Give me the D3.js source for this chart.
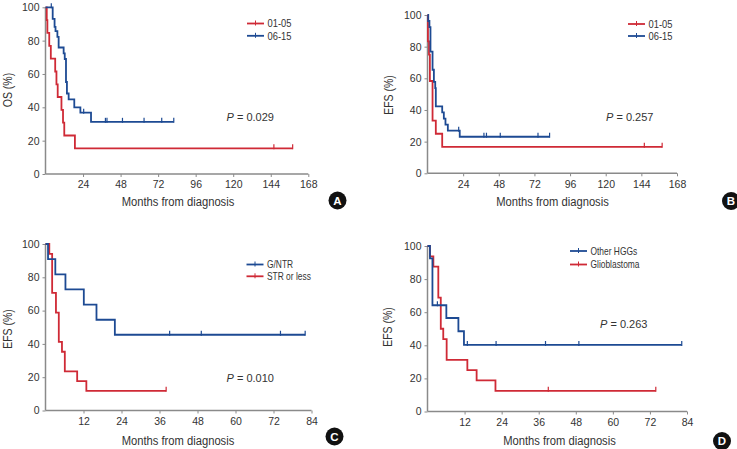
<!DOCTYPE html>
<html><head><meta charset="utf-8">
<script src="https://cdn.jsdelivr.net/npm/d3@7"></script>
<style>
body{margin:0;background:#fff;}
svg{display:block;}
text{font-family:"Liberation Sans",Arial,sans-serif;fill:#333;}
</style></head><body>
<svg id="c" width="737" height="449"></svg>
<script>
// ---------- DATA ----------
const yTicks = [0, 20, 40, 60, 80, 100];
const xTicksAB = [24, 48, 72, 96, 120, 144, 168];
const xTicksCD = [12, 24, 36, 48, 60, 72, 84];

// Panel A (OS)
const aRedTimes = [0, 0.8, 1.2, 2.4, 3.4, 6.2, 7.0, 7.8, 10.2, 11.2, 12.0, 18.8, 158];
const aRedSurv  = [100, 92.3, 84.6, 76.9, 69.2, 61.5, 53.8, 46.2, 38.5, 30.8, 23.1, 15.4, 15.4];
const aRedCens  = [146, 158];
const aBlueTimes = [0, 4.6, 5.8, 6.4, 7.6, 8.4, 11.6, 12.3, 13.1, 13.7, 14.8, 18.4, 22.3, 29.1, 82];
const aBlueSurv  = [100, 93.1, 88.3, 85.7, 82.3, 75.9, 72.4, 69.0, 55.2, 48.3, 44.8, 40.0, 36.8, 31.3, 31.3];
const aBlueCens  = [3.7, 24.4, 38.3, 39.3, 49.2, 63, 74.3, 82];

// Panel B (EFS)
const bRedTimes = [0, 0.3, 1.0, 1.6, 3.4, 5.6, 9.9, 158];
const bRedSurv  = [100, 83.3, 75.0, 58.3, 33.3, 25.0, 16.7, 16.7];
const bRedCens  = [146, 158];
const bBlueTimes = [0, 0.5, 1.3, 2.0, 3.4, 4.3, 5.2, 5.6, 9.9, 11.0, 12.1, 13.7, 21.7, 82.2];
const bBlueSurv  = [100, 96.2, 92.3, 76.9, 65.4, 57.7, 53.8, 42.3, 38.5, 34.6, 30.8, 26.9, 23.1, 23.1];
const bBlueCens  = [21.0, 38.0, 39.7, 49.0, 74.4, 82.2];

// Panel C (EFS by resection)
const cBlueTimes = [0, 0.8, 3.1, 6.3, 12.1, 16.1, 21.9, 82];
const cBlueSurv  = [100, 90.9, 81.8, 72.7, 63.6, 54.5, 45.5, 45.5];
const cBlueCens  = [39.2, 49.2, 74.2, 82];
const cRedTimes = [0, 1.2, 2.1, 3.3, 4.2, 5.2, 6.1, 10.0, 12.9, 38.1];
const cRedSurv  = [100, 94.1, 70.6, 58.8, 41.2, 35.3, 23.5, 17.6, 11.8, 11.8];
const cRedCens  = [38.1];

// Panel D (EFS by histology)
const dBlueTimes = [0, 0.8, 1.6, 6.1, 10.0, 11.8, 82.3];
const dBlueSurv  = [100, 92.5, 64.2, 56.5, 48.5, 40.2, 40.2];
const dBlueCens  = [3.2, 12.9, 22.2, 38.2, 49.0, 82.3];
const dRedTimes = [0, 0.8, 1.9, 3.5, 4.3, 5.1, 6.2, 12.9, 15.9, 22.0, 73.9];
const dRedSurv  = [100, 93.75, 87.5, 68.75, 50.0, 43.75, 31.25, 25.0, 18.75, 12.5, 12.5];
const dRedCens  = [39.1, 73.9];

const legendA = ["01-05", "06-15"];
const legendC = ["G/NTR", "STR or less"];
const legendD = ["Other HGGs", "Glioblastoma"];
const pValues = ["0.029", "0.257", "0.010", "0.263"];
const yTitles = ["OS (%)", "EFS (%)", "EFS (%)", "EFS (%)"];
const xTitle = "Months from diagnosis";
const badges = ["A", "B", "C", "D"];

// ---------- DRAW ----------
const RED = "#cf2a36", BLUE = "#1d4a93", AXIS = "#8a8a8a";
const svg = d3.select("#c");

function ntext(g, x, y, str, size, sx, anchor, rot) {
  return g.append("text")
    .attr("transform", `translate(${x},${y})${rot ? " rotate(" + rot + ")" : ""} scale(${sx},1)`)
    .attr("text-anchor", anchor || "start").style("font-size", size + "px").text(str);
}

function curve(g, x, y, times, surv, cens, color) {
  const pts = times.map((t, i) => [t, surv[i]]);
  g.append("path").datum(pts)
    .attr("fill", "none").attr("stroke", color).attr("stroke-width", 1.8)
    .attr("d", d3.line().x(d => x(d[0])).y(d => y(d[1])).curve(d3.curveStepAfter));
  const level = t => { let s = surv[0]; for (let i = 0; i < times.length; i++) if (times[i] <= t) s = surv[i]; return s; };
  g.selectAll(null).data(cens).enter().append("line")
    .attr("x1", d => x(d)).attr("x2", d => x(d))
    .attr("y1", d => y(level(d)) - 4).attr("y2", d => y(level(d)) + 1)
    .attr("stroke", color).attr("stroke-width", 1.2);
}

function panel(cfg) {
  const g = svg.append("g");
  const x = d3.scaleLinear().domain([0, cfg.xmax]).range(cfg.xr);
  const y = d3.scaleLinear().domain([0, 100]).range(cfg.yr);
  const ya = g.append("g").attr("transform", `translate(${cfg.xr[0]},0)`)
    .call(d3.axisLeft(y).tickValues(yTicks).tickSize(3).tickPadding(3));
  const xa = g.append("g").attr("transform", `translate(0,${cfg.yr[0]})`)
    .call(d3.axisBottom(x).tickValues(cfg.xt).tickSize(3).tickPadding(4));
  [ya, xa].forEach(a => {
    a.select(".domain").attr("stroke", AXIS).attr("stroke-width", 1.5);
    a.selectAll(".tick line").attr("stroke", AXIS).attr("stroke-width", 1);
    a.selectAll(".tick text").attr("fill", "#333").style("font-family", "'Liberation Sans',Arial,sans-serif").style("font-size", "10.5px");
  });
  xa.select(".domain").attr("d", `M${cfg.xr[0]},0H${cfg.xr[1]}`);
  ya.select(".domain").attr("d", `M0,${cfg.yr[0]}V${cfg.yr[1]}`);
  cfg.series.forEach(s => curve(g, x, y, s.t, s.s, s.c, s.color));
  cfg.legend.forEach((lab, i) => {
    const ly = cfg.leg[1] + i * cfg.legGap;
    const col = cfg.legColors[i];
    g.append("line").attr("x1", cfg.leg[0]).attr("x2", cfg.leg[0] + 17).attr("y1", ly).attr("y2", ly)
      .attr("stroke", col).attr("stroke-width", 1.8);
    g.append("line").attr("x1", cfg.leg[0] + 8.5).attr("x2", cfg.leg[0] + 8.5).attr("y1", ly - 3).attr("y2", ly + 2)
      .attr("stroke", col).attr("stroke-width", 1);
    ntext(g, cfg.leg[0] + 20.5, ly + 3.7, lab, cfg.legSize, cfg.legSx);
  });
  const pt = g.append("text").attr("x", cfg.p[0]).attr("y", cfg.p[1]).style("font-size", "11px");
  pt.append("tspan").style("font-style", "italic").text("P");
  pt.append("tspan").text(" = " + cfg.pv);
  ntext(g, cfg.yt[0], cfg.yt[1], cfg.ytitle, 12.5, 0.84, "middle", -90);
  ntext(g, cfg.xtp[0], cfg.xtp[1], xTitle, 13.5, 0.83, "middle");
  g.append("circle").attr("cx", cfg.b[0]).attr("cy", cfg.b[1]).attr("r", 9).attr("fill", "#111");
  g.append("text").attr("x", cfg.b[0]).attr("y", cfg.b[1] + 4).attr("text-anchor", "middle")
    .style("font-weight", "bold").style("font-size", "11.5px").style("fill", "#fff").text(cfg.badge);
}

panel({xmax: 168, xr: [45.5, 308.3], yr: [174, 7.3], xt: xTicksAB,
  series: [{t: aRedTimes, s: aRedSurv, c: aRedCens, color: RED}, {t: aBlueTimes, s: aBlueSurv, c: aBlueCens, color: BLUE}],
  legend: legendA, legColors: [RED, BLUE], leg: [247, 23.5], legGap: 12.3, legSize: 11, legSx: 0.85,
  p: [226.5, 121], pv: pValues[0], ytitle: yTitles[0], yt: [12, 90], xtp: [178, 206], b: [337.5, 200.5], badge: badges[0]});

panel({xmax: 168, xr: [427.5, 677], yr: [173.3, 15], xt: xTicksAB,
  series: [{t: bRedTimes, s: bRedSurv, c: bRedCens, color: RED}, {t: bBlueTimes, s: bBlueSurv, c: bBlueCens, color: BLUE}],
  legend: legendA, legColors: [RED, BLUE], leg: [628, 24], legGap: 12, legSize: 11, legSx: 0.85,
  p: [606, 121], pv: pValues[1], ytitle: yTitles[1], yt: [393, 95], xtp: [552.5, 206], b: [731, 201], badge: badges[1]});

panel({xmax: 84, xr: [45.5, 311.5], yr: [410.5, 244], xt: xTicksCD,
  series: [{t: cRedTimes, s: cRedSurv, c: cRedCens, color: RED}, {t: cBlueTimes, s: cBlueSurv, c: cBlueCens, color: BLUE}],
  legend: legendC, legColors: [BLUE, RED], leg: [246.5, 264.5], legGap: 11.8, legSize: 10.5, legSx: 0.8,
  p: [226.5, 381.5], pv: pValues[2], ytitle: yTitles[2], yt: [12, 329], xtp: [178, 444.5], b: [334.5, 436.5], badge: badges[2]});

panel({xmax: 84, xr: [427.5, 687], yr: [411.5, 246], xt: xTicksCD,
  series: [{t: dRedTimes, s: dRedSurv, c: dRedCens, color: RED}, {t: dBlueTimes, s: dBlueSurv, c: dBlueCens, color: BLUE}],
  legend: legendD, legColors: [BLUE, RED], leg: [570, 251], legGap: 13.5, legSize: 10.5, legSx: 0.8,
  p: [600, 327.5], pv: pValues[3], ytitle: yTitles[3], yt: [392, 327], xtp: [559.5, 445], b: [722, 441], badge: badges[3]});
</script>
</body></html>
